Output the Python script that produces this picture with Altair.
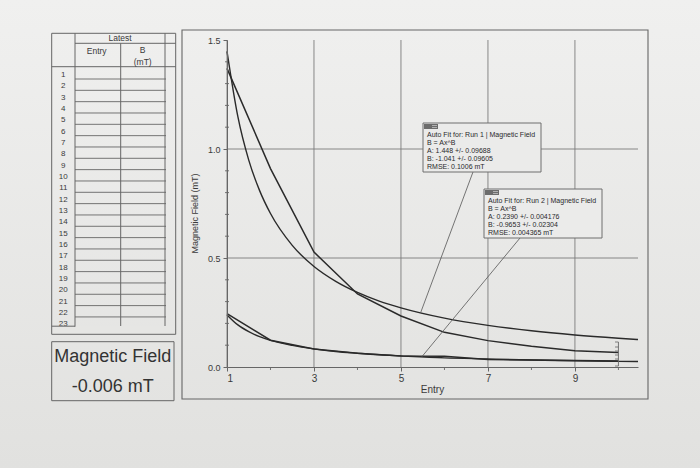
import altair as alt
import pandas as pd

# ---------------- data ----------------
entry = [1, 2, 3, 4, 5, 6, 7, 8, 9, 10]
run1_b = [1.37, 0.91, 0.527, 0.335, 0.234, 0.159, 0.121, 0.095, 0.074, 0.067]
run2_b = [0.245, 0.123, 0.083, 0.063, 0.050, 0.049, 0.034, 0.032, 0.030, 0.027]

fit_x = [1, 1.25, 1.5, 1.75, 2, 2.5, 3, 3.5, 4, 4.5, 5, 6, 7, 8, 9, 10, 10.45]
fit1_b = [1.448, 1.148, 0.949, 0.809, 0.704, 0.558, 0.461, 0.393, 0.342, 0.302,
          0.271, 0.224, 0.191, 0.166, 0.147, 0.132, 0.126]
fit2_b = [0.239, 0.193, 0.162, 0.139, 0.122, 0.099, 0.083, 0.071, 0.063, 0.056,
          0.051, 0.042, 0.037, 0.032, 0.029, 0.026, 0.025]

x_major = [1, 3, 5, 7, 9]
x_minor = [2, 4, 6, 8, 10]
y_major = [0.0, 0.5, 1.0, 1.5]
y_grid = [0.5, 1.0]
y_minor = [0.1, 0.2, 0.3, 0.4, 0.6, 0.7, 0.8, 0.9, 1.1, 1.2, 1.3, 1.4]

fit1_text = ["Auto Fit for: Run 1 | Magnetic Field", "B = Ax^B",
             "A: 1.448 +/- 0.09688", "B: -1.041 +/- 0.09605", "RMSE: 0.1006 mT"]
fit2_text = ["Auto Fit for: Run 2 | Magnetic Field", "B = Ax^B",
             "A: 0.2390 +/- 0.004176", "B: -0.9653 +/- 0.02304", "RMSE: 0.004365 mT"]

table_group = "Latest"
table_cols = ["Entry", "B", "(mT)"]
table_rows = [str(i) for i in range(1, 24)]
meter_lines = ["Magnetic Field", "-0.006 mT"]

# ---------------- style ----------------
W, H = 411, 327
FONT = "Liberation Sans"
INK = "#2a2a2a"
FRAME = "#666666"
GRID = "#7c7c7c"
TXT = "#3a3a3a"
PAPER = "#e9e9e7"

one = pd.DataFrame({"k": [0]})

X = alt.X("x:Q", scale=alt.Scale(domain=[1, 10.45], nice=False, zero=False),
          axis=alt.Axis(values=x_major, title="Entry", grid=False, zindex=1,
                        labelFont=FONT, labelFontSize=10, labelColor=TXT,
                        labelPadding=2, tickSize=4, tickColor=FRAME,
                        domainColor=FRAME, titleFont=FONT, titleFontSize=10,
                        titleFontWeight="normal", titleColor=TXT,
                        titleX=205, titleY=17))
Y = alt.Y("y:Q", scale=alt.Scale(domain=[0, 1.5], nice=False),
          axis=alt.Axis(values=y_major, format=".1f", title="Magnetic Field (mT)",
                        grid=False, zindex=1, labelFont=FONT, labelFontSize=9,
                        labelColor=TXT, labelPadding=3, tickSize=4,
                        tickColor=FRAME, domainColor=FRAME, titleFont=FONT,
                        titleFontSize=9, titleFontWeight="normal",
                        titleColor=TXT, titleX=-28, titleY=173))


def rect(x1, y1, x2, y2, fill=None, stroke=FRAME, sw=1.0):
    kw = dict(stroke=stroke, strokeWidth=sw)
    if fill is None:
        kw["fillOpacity"] = 0
        kw["fill"] = "#ffffff"
    else:
        kw["fill"] = fill
    if stroke is None:
        kw.pop("stroke")
        kw["strokeWidth"] = 0
    return alt.Chart(one).mark_rect(**kw).encode(
        x=alt.value(x1), x2=alt.value(x2), y=alt.value(y1), y2=alt.value(y2))


def hline(x1, x2, y, color=FRAME, sw=1.0):
    return alt.Chart(one).mark_rule(color=color, strokeWidth=sw).encode(
        x=alt.value(x1), x2=alt.value(x2), y=alt.value(y))


def vline(x, y1, y2, color=FRAME, sw=1.0):
    return alt.Chart(one).mark_rule(color=color, strokeWidth=sw).encode(
        x=alt.value(x), y=alt.value(y1), y2=alt.value(y2))


def text(x, y, s, size, align="left", color=TXT):
    return alt.Chart(one).mark_text(text=s, font=FONT, fontSize=size, align=align,
                                    baseline="middle", color=color).encode(
        x=alt.value(x), y=alt.value(y))


layers = []

# paper background (gradient)
layers.append(alt.Chart(one).mark_rect(
    color=alt.Gradient(gradient="linear",
                       stops=[alt.GradientStop(color="#f0f0ef", offset=0),
                              alt.GradientStop(color="#e1e1df", offset=1)],
                       x1=0, x2=0, y1=0, y2=1),
    strokeWidth=0).encode(x=alt.value(-227), x2=alt.value(473),
                          y=alt.value(-40), y2=alt.value(428)))

# grid
layers.append(alt.Chart(pd.DataFrame({"x": x_major})).mark_rule(
    color=GRID, strokeWidth=0.9).encode(x=X))
layers.append(alt.Chart(pd.DataFrame({"y": y_grid})).mark_rule(
    color=GRID, strokeWidth=0.9).encode(y=Y))

# minor ticks
layers.append(alt.Chart(pd.DataFrame({"x": x_minor})).mark_rule(
    color=FRAME, strokeWidth=0.9).encode(x=X, y=alt.value(H), y2=alt.value(H + 3)))
layers.append(alt.Chart(pd.DataFrame({"y": y_minor})).mark_rule(
    color=FRAME, strokeWidth=0.9).encode(y=Y, x=alt.value(-2), x2=alt.value(2)))

# curves
runs = pd.DataFrame({"x": entry * 2, "y": run1_b + run2_b,
                     "s": ["Run 1"] * 10 + ["Run 2"] * 10})
fits = pd.DataFrame({"x": fit_x * 2, "y": fit1_b + fit2_b,
                     "s": ["Fit 1"] * len(fit_x) + ["Fit 2"] * len(fit_x)})
layers.append(alt.Chart(runs).mark_line(color=INK, strokeWidth=1.5).encode(
    x=X, y=Y, detail="s:N"))
layers.append(alt.Chart(fits).mark_line(color=INK, strokeWidth=1.4,
                                        interpolate="monotone").encode(
    x=X, y=Y, detail="s:N"))

# fit range brackets at the end of the data
layers.append(alt.Chart(one).mark_rule(color=FRAME, strokeWidth=0.9).encode(
    x=alt.datum(10), y=alt.value(302), y2=alt.value(326)))
for ty in [302, 307, 311, 315, 319, 326]:
    layers.append(alt.Chart(one).mark_rule(color=FRAME, strokeWidth=0.8).encode(
        x=alt.datum(10), x2=alt.value(388), y=alt.value(ty)))

# leader lines
layers.append(alt.Chart(one).mark_rule(color="#555555", strokeWidth=0.8).encode(
    x=alt.datum(5.45), y=alt.datum(0.248), x2=alt.value(246), y2=alt.value(132)))
layers.append(alt.Chart(one).mark_rule(color="#555555", strokeWidth=0.8).encode(
    x=alt.datum(5.48), y=alt.datum(0.047), x2=alt.value(293), y2=alt.value(198)))

# fit boxes
for (bx1, by1, bx2, by2, lines) in [(196, 83, 314, 132, fit1_text),
                                    (257, 149, 375, 198, fit2_text)]:
    layers.append(rect(bx1, by1, bx2, by2, fill="#ebebea", stroke="#6e6e6e", sw=1))
    layers.append(rect(bx1 + 1, by1 + 1, bx1 + 15, by1 + 6, fill="#6c6c6c", stroke=None))
    layers.append(hline(bx1 + 9, bx1 + 14, by1 + 2.5, color="#d0d0d0", sw=0.7))
    layers.append(hline(bx1 + 9, bx1 + 14, by1 + 4.5, color="#d0d0d0", sw=0.7))
    for i, s in enumerate(lines):
        layers.append(text(bx1 + 4, by1 + 12 + i * 8, s, 7, color="#2a2a2a"))

# graph outer frame
layers.append(rect(-45, -10, 421, 359, stroke=FRAME, sw=1.1))

# ---------------- data table panel ----------------
TL, TR = -175.3, -51.3
for i, s in enumerate(table_rows):
    layers.append(text(-163.7, 35 + i * 11.33, s, 8, align="center"))
layers.append(rect(TL + 0.5, 285.8, TR - 0.5, 293.8, fill="#e6e6e4", stroke=None))
layers.append(rect(TL, -6.7, TR, 294.3, stroke=FRAME, sw=1))
layers.append(vline(-152, -6.7, 286.7))
layers.append(vline(-106.3, 3.3, 286))
layers.append(vline(-62, -6.7, 286))
layers.append(hline(-152, TR, 3.3))
layers.append(hline(TL, TR, 26.7))
for i in range(22):
    layers.append(hline(-152, -61, 39 + i * 11.33, sw=0.9))
layers.append(hline(TL, -152, 286.2))
layers.append(text(-107, -1.7, table_group, 8.5, align="center"))
layers.append(text(-130.3, 10.5, table_cols[0], 8.5, align="center"))
layers.append(text(-84.3, 10, table_cols[1], 8.5, align="center"))
layers.append(text(-84.3, 21.5, table_cols[2], 8.5, align="center"))

# ---------------- meter box ----------------
layers.append(rect(-175.3, 301.7, -53, 360.7, stroke=FRAME, sw=1))
layers.append(text(-114.3, 317.3, meter_lines[0], 18, align="center", color="#333333"))
layers.append(text(-114.3, 346.7, meter_lines[1], 18, align="center", color="#333333"))

chart = alt.layer(*layers).properties(
    width=W, height=H,
    padding={"left": 227, "top": 40, "right": 62, "bottom": 101},
    autosize=alt.AutoSizeParams(type="none"),
    background=PAPER,
).configure_view(stroke=FRAME, strokeWidth=1)

chart.save("out.html", embed_options={"renderer": "svg", "actions": False})
